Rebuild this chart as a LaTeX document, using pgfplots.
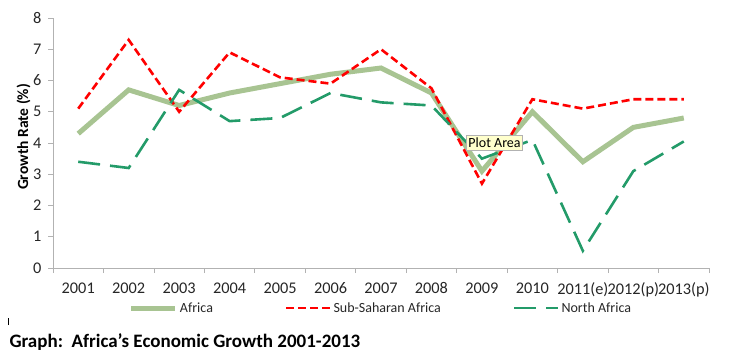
\documentclass[border=0pt]{standalone}
\usepackage{pgfplots}
\pgfplotsset{compat=1.18}
\usepackage{fontspec}
\setmainfont{Carlito}
\definecolor{afr}{RGB}{168,196,146}
\definecolor{ssa}{RGB}{255,0,0}
\definecolor{naf}{RGB}{35,155,105}
\begin{document}
\begin{tikzpicture}[x=1bp,y=1bp]
\useasboundingbox (0,0) rectangle (754,357);
\begin{axis}[
  at={(53bp,89bp)}, anchor=south west,
  scale only axis, width=656bp, height=250bp,
  clip=false,
  xmin=-0.5, xmax=12.5, ymin=0, ymax=8,
  axis x line*=bottom, axis y line*=left,
  axis line style={draw=gray!60, line width=0.8pt},
  xtick={0,...,12},
  xticklabels={2001,2002,2003,2004,2005,2006,2007,2008,2009,2010,2011(e),2012(p),2013(p)},
  minor xtick={-0.5,0.5,...,12.5},
  major x tick style={draw=none},
  minor x tick style={draw=gray!60, line width=0.8pt},
  ytick={0,...,8},
  major y tick style={draw=gray!60, line width=0.8pt},
  tick align=outside,
  major tick length=5bp, minor tick length=5bp,
  /pgf/number format/assume math mode=true,
  tick label style={font=\fontsize{16.3bp}{19bp}\selectfont, text=black!85},
  xticklabel style={yshift=-6bp},
  yticklabel style={xshift=-3bp},
  ylabel={\textbf{Growth Rate (\%)}},
  ylabel style={font=\fontsize{15.5bp}{18bp}\selectfont, yshift=-4bp, xshift=6bp},
  legend columns=3,
  legend style={draw=none, fill=none, at={(axis description cs:0.5,-0.16)}, anchor=center,
    font=\fontsize{14bp}{16bp}\selectfont, text=black!85,
    /tikz/every even column/.append style={column sep=70bp},
    /tikz/every odd column/.append style={column sep=0bp}},
  legend image code/.code={\draw[#1] (0bp,0bp) -- (44bp,0bp);},
]
\addplot[afr, line width=5bp] coordinates {(0,4.3) (1,5.7) (2,5.2) (3,5.6) (4,5.9) (5,6.2) (6,6.4) (7,5.6) (8,3.1) (9,5.0) (10,3.4) (11,4.5) (12,4.8)};
\addlegendentry{Africa}
\addplot[ssa, line width=2.6bp, dash pattern=on 8bp off 4bp] coordinates {(0,5.1) (1,7.3) (2,5.0) (3,6.9) (4,6.1) (5,5.9) (6,7.0) (7,5.75) (8,2.7) (9,5.4) (10,5.1) (11,5.4) (12,5.4)};
\addlegendentry{Sub-Saharan Africa}
\addplot[naf, line width=2.6bp, dash pattern=on 22bp off 10bp] coordinates {(0,3.4) (1,3.2) (2,5.7) (3,4.7) (4,4.8) (5,5.6) (6,5.3) (7,5.2) (8,3.5) (9,4.1) (10,0.55) (11,3.1) (12,4.05)};
\addlegendentry{North Africa}
\node[draw=gray!60, fill={rgb,255:red,255;green,255;blue,204}, inner xsep=2bp, inner ysep=2.5bp, font=\fontsize{14bp}{16bp}\selectfont] at (axis cs:8.25,4.0) {Plot Area};
\end{axis}
\node[anchor=base west, font=\fontsize{19bp}{22bp}\selectfont\bfseries] at (6,10) {Graph:\ \ Africa’s Economic Growth 2001-2013};
\draw[black, line width=0.7bp] (8,32) -- (8,39);
\end{tikzpicture}
\end{document}
